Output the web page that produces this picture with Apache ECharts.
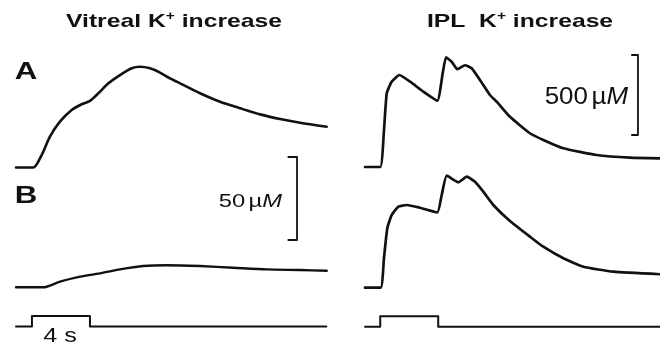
<!DOCTYPE html>
<html><head><meta charset="utf-8">
<script src="https://cdn.jsdelivr.net/npm/echarts@6/dist/echarts.min.js"></script>
<style>html,body{margin:0;padding:0;background:#fff}#c{width:660px;height:349px}</style>
</head><body><div id="c"></div>
<script>
// ---- data (time in s from stimulus onset, K+ increase in µM) ----
const columnTitles = ['Vitreal', 'IPL'];
const panelLabels = ['A', 'B'];
const scaleBarVitreal = 50;   // µM
const scaleBarIPL = 500;      // µM
const stimulusDuration = 4;   // s
const stimulusLabel = '4 s';

const vitrealA = [[-1.1,0],[0.09,0],[0.67,7.5],[1.24,18.6],[1.93,27.6],[2.74,34.6],[3.43,38.1],[4.0,40.1],[4.58,44.7],[5.27,50.7],[6.07,55.7],[6.88,59.8],[7.45,60.7],[8.14,59.8],[8.83,57.2],[9.52,53.7],[10.21,50.7],[11.59,44.7],[12.97,39.6],[14.35,35.7],[15.73,32.0],[17.11,29.2],[18.49,27.0],[20.33,24.6]];
const vitrealB = [[-1.1,0],[0.78,0],[1.93,3.4],[3.09,6.0],[4.69,8.4],[6.07,10.8],[7.68,12.8],[9.29,13.3],[11.59,12.8],[13.89,11.8],[16.19,10.8],[18.49,10.4],[20.33,10.0]];
const iplA = [[-1.05,0],[0.0,0],[0.26,231],[0.45,461],[0.79,533],[1.32,575],[2.06,533],[2.97,471],[3.94,414],[4.31,586],[4.54,686],[4.93,658],[5.32,611],[5.85,636],[6.31,617],[6.88,544],[7.57,450],[8.06,406],[8.95,314],[10.33,211],[11.25,169],[12.63,117],[14.93,75],[17.23,58],[19.3,54]];
const iplB = [[-1.05,0],[0.03,0],[0.26,186],[0.49,373],[0.79,454],[1.25,506],[1.83,517],[2.74,500],[3.94,471],[4.24,579],[4.59,700],[5.39,659],[5.97,694],[6.54,662],[7.11,600],[7.80,517],[8.95,417],[10.33,319],[11.25,256],[12.63,184],[14.01,131],[16.08,100],[19.3,84]];
const stimVitreal = [[-1.1,0],[0,0],[0,1],[4,1],[4,0],[20.3,0]];
const stimIPL = [[-1.05,0],[0,0],[0,1],[4,1],[4,0],[19.3,0]];

// ---- layout ----
const PXS = 14.5;                 // px per second
const vx = {min:-1.1, max:20.4, left:16};
const ix = {min:-1.05, max:19.3, left:365};
function mkGrid(xr, top, height){return {left:xr.left, top:top, width:(xr.max-xr.min)*PXS, height:height};}
const grids = [
  mkGrid(vx, 59.6, 116.2),   // vitreal A  (1.66 px/µM)
  mkGrid(vx, 154.5, 141.1),  // vitreal B
  mkGrid(vx, 310.75, 21),    // vitreal stimulus
  mkGrid(ix, 51.8, 123.2),   // IPL A (0.16 px/µM)
  mkGrid(ix, 172.5, 123.2),  // IPL B
  mkGrid(ix, 311, 21)        // IPL stimulus
];
const yr = [[-5,65],[-5,80],[-0.5,1.5],[-50,720],[-50,720],[-0.5,1.5]];
const xAxes = grids.map((g,i)=>({type:'value', gridIndex:i, show:false, min: i<3?vx.min:ix.min, max: i<3?vx.max:ix.max}));
const yAxes = grids.map((g,i)=>({type:'value', gridIndex:i, show:false, min:yr[i][0], max:yr[i][1]}));

const INK = '#111';
function trace(data, i, w, smooth){
  return {type:'line', xAxisIndex:i, yAxisIndex:i, data:data, symbol:'none', clip:false,
    smooth: smooth,
    lineStyle:{color:INK, width:w, cap:'round', join:'round'}};
}
// scale bars built from their values
function bar(i, t, tick, from, size){
  return trace([[t-tick,from+size],[t,from+size],[t,from],[t-tick,from]], i, 1.8, false);
}

const series = [
  trace(vitrealA, 0, 2.6, 0.25),
  trace(vitrealB, 1, 2.4, 0.25),
  trace(stimVitreal, 2, 2, false),
  trace(iplA, 3, 2.7, 0.15),
  trace(iplB, 4, 2.7, 0.15),
  trace(stimIPL, 5, 2, false),
  bar(1, 18.28, 0.6, 28.5, scaleBarVitreal),
  bar(3, 17.78, 0.42, 200, scaleBarIPL)
];

const FF = '"Liberation Sans", Arial, Helvetica, sans-serif';
function txt(x, y, text, rich, scaleX, align){
  return {type:'text', x:x, y:y, scaleX:scaleX, silent:true,
    style:{text:text, rich:rich, fill:INK, align:align, textAlign:align, verticalAlign:'middle', textVerticalAlign:'middle'}};
}
const titleRich = {
  t:{fontFamily:FF, fontWeight:'bold', fontSize:19, fill:INK, lineHeight:22},
  s:{fontFamily:FF, fontWeight:'bold', fontSize:12, fill:INK, verticalAlign:'top', lineHeight:22}
};
function unitRich(sz){
  return {
    n:{fontFamily:FF, fontSize:sz, fill:INK},
    sp:{fontFamily:FF, fontSize:sz*0.5, fill:INK},
    m:{fontFamily:FF, fontSize:sz, fontStyle:'italic', fill:INK}
  };
}
const graphics = [
  txt(174, 22, '{t|' + columnTitles[0] + ' K}{s|+}{t| increase}', titleRich, 1.3, 'center'),
  txt(520, 22, '{t|' + columnTitles[1] + '  K}{s|+}{t| increase}', titleRich, 1.3, 'center'),
  txt(26, 72, '{t|' + panelLabels[0] + '}', {t:{fontFamily:FF, fontWeight:'bold', fontSize:24, fill:INK}}, 1.3, 'center'),
  txt(26, 196, '{t|' + panelLabels[1] + '}', {t:{fontFamily:FF, fontWeight:'bold', fontSize:24, fill:INK}}, 1.3, 'center'),
  txt(282, 202, '{n|' + scaleBarVitreal + '}{sp| }{n|µ}{m|M}', unitRich(19), 1.25, 'right'),
  txt(628, 97, '{n|' + scaleBarIPL + '}{sp| }{n|µ}{m|M}', unitRich(24), 1.08, 'right'),
  txt(60, 336, '{n|' + stimulusLabel + '}', unitRich(21), 1.2, 'center')
];

const chart = echarts.init(document.getElementById('c'), null, {renderer:'canvas'});
chart.setOption({
  animation:false, backgroundColor:'#fff',
  grid:grids, xAxis:xAxes, yAxis:yAxes, series:series, graphic:graphics
});
</script></body></html>
